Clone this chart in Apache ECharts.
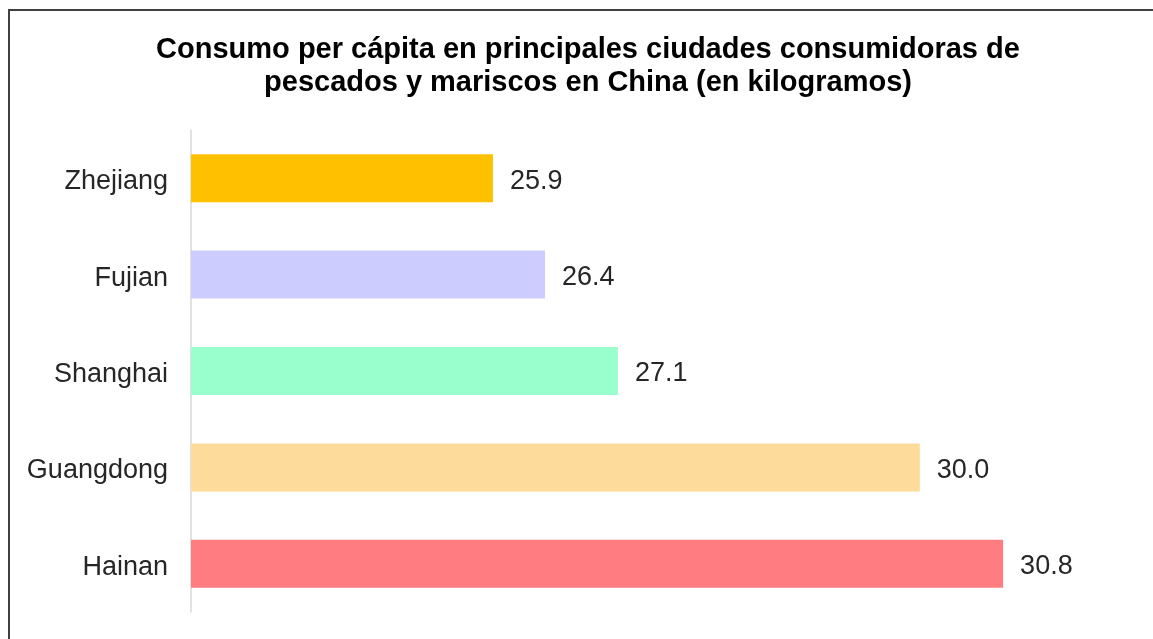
<!DOCTYPE html>
<html>
<head>
<meta charset="utf-8">
<script src="https://cdn.jsdelivr.net/npm/echarts@6/dist/echarts.min.js"></script>
<style>
  html, body { margin: 0; padding: 0; background: #fff; }
  #chart { width: 1153px; height: 639px; }
</style>
</head>
<body>
<div id="chart"></div>
<script>
// 資料
const categories = ['Zhejiang', 'Fujian', 'Shanghai', 'Guangdong', 'Hainan'];
const values = [25.9, 26.4, 27.1, 30.0, 30.8];
const barColors = ['#FFC000', '#CCCCFF', '#99FFCC', '#FDDC9B', '#FF7C80'];

const font = '"Liberation Sans", Arial, sans-serif';

const chart = echarts.init(document.getElementById('chart'));

const option = {
  backgroundColor: '#fff',
  animation: false,
  title: {
    text: 'Consumo per cápita en principales ciudades consumidoras de\npescados y mariscos en China (en kilogramos)',
    left: 583,
    textAlign: 'center',
    top: 28,
    textStyle: {
      fontFamily: font,
      fontSize: 29,
      fontWeight: 'bold',
      color: '#000',
      lineHeight: 33
    }
  },
  // 外框
  graphic: [{
    type: 'rect',
    shape: { x: 9, y: 10, width: 1300, height: 800 },
    style: { fill: 'none', stroke: '#404040', lineWidth: 2 },
    silent: true
  }],
  grid: { left: 191, right: 77, top: 130, bottom: 27 },
  xAxis: {
    type: 'value',
    min: 23,
    max: 31.5,
    show: false
  },
  yAxis: {
    type: 'category',
    data: categories,
    inverse: true,
    axisLine: { show: true, lineStyle: { color: '#D9D9D9', width: 1.5 } },
    axisTick: { show: false },
    axisLabel: {
      margin: 23,
      formatter: v => '{c|' + v + '}',
      rich: {
        c: {
          padding: [7, 0, 0, 0],
          fontFamily: font,
          fontSize: 27,
          color: '#262626'
        }
      }
    }
  },
  series: [{
    type: 'bar',
    barWidth: 48,
    data: values.map((v, i) => ({ value: v, itemStyle: { color: barColors[i] } })),
    label: {
      show: true,
      position: 'right',
      distance: 17,
      offset: [0, 3],
      fontFamily: font,
      fontSize: 27,
      color: '#262626',
      formatter: p => p.value.toFixed(1)
    }
  }]
};

chart.setOption(option);
</script>
</body>
</html>
